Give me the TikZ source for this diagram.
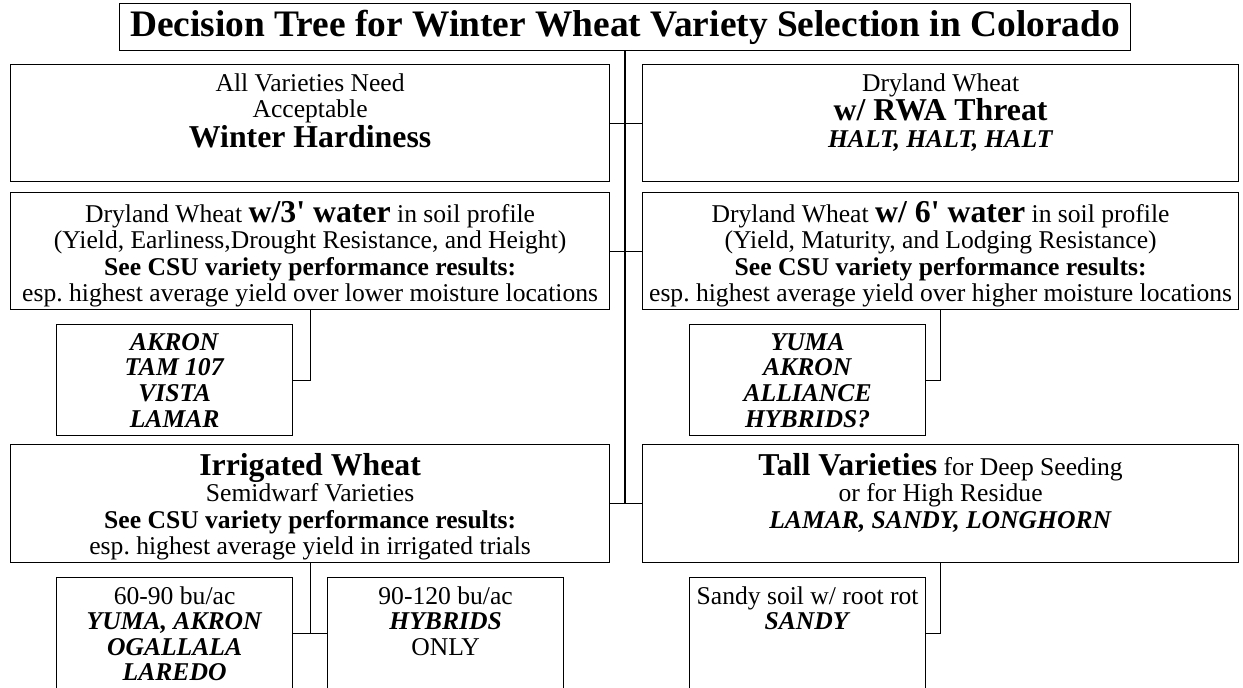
\documentclass[tikz,border=0pt]{standalone}
\usepackage{fontspec}
\setmainfont{Liberation Serif}[Ligatures=TeXOff]

\newcommand{\bodysize}{\fontsize{12.8}{13.2}\selectfont}
\newcommand{\listsize}{\fontsize{12.8}{12.8}\selectfont}
\newcommand{\bigsize}{\fontsize{15.9}{16.5}\selectfont}
\newcommand{\titlesize}{\fontsize{18.7}{20}\selectfont}
\newcommand{\bigb}[1]{{\bigsize\bfseries #1}}
\newcommand{\cult}[1]{\textbf{\textit{#1}}}

\tikzset{
  box/.style={draw, line width=0.6pt, anchor=north west, inner sep=0pt},
  boxtext/.style={anchor=north, align=center, inner sep=0pt, font=\bodysize\frenchspacing},
  listtext/.style={boxtext, font=\listsize\frenchspacing},
  link/.style={line width=0.55pt},
  trunk/.style={line width=1.1pt}
}

\begin{document}
\begin{tikzpicture}[x=0.5pt, y=-0.5pt]
            \def \px     {0.5pt}
            \def \gap    {4.5pt}
            \def \xl     {10}
            \def \xr     {642}
            \def \wl     {599}
            \def \wr     {596}
            \def \xsl    {56}
            \def \xsr    {689}
            \def \xsm    {327}
            \def \ws     {236}

            \def \yone   {64}
            \def \ytwo   {192}
            \def \ysub   {324}
            \def \ythree {444}
            \def \ybot   {577}

            \useasboundingbox (0,0) rectangle (1243,687);
            \clip (0,0) rectangle (1243,687);
% title
            \node [box, minimum width=1011*\px, minimum height=47*\px, font=\titlesize\bfseries] (title) at (119,3) {Decision Tree for Winter Wheat Variety Selection in Colorado};
% first row
            \node [box, minimum width=\wl*\px, minimum height=117*\px] (hardy) at (\xl,\yone) {};
            \node [box, minimum width=\wr*\px, minimum height=117*\px] (rwa) at (\xr,\yone) {};
            \node [boxtext] (hardytxt) at ([yshift=-\gap]hardy.north) {All Varieties Need\\Acceptable\\\bigb{Winter Hardiness}};
            \node [boxtext] (rwatxt) at ([yshift=-\gap]rwa.north) {Dryland Wheat\\\bigb{w/ RWA Threat}\\\cult{HALT, HALT, HALT}};
% second row
            \node [box, minimum width=\wl*\px, minimum height=117*\px] (dry3) at (\xl,\ytwo) {};
            \node [box, minimum width=\wr*\px, minimum height=117*\px] (dry6) at (\xr,\ytwo) {};
            \node [boxtext] (dry3txt) at ([yshift=-\gap]dry3.north) {Dryland Wheat \bigb{w/3' water} in soil profile\\(Yield, Earliness,Drought Resistance, and Height)\\\textbf{See CSU variety performance results:}\\esp. highest average yield over lower moisture locations};
            \node [boxtext] (dry6txt) at ([yshift=-\gap]dry6.north) {Dryland Wheat \bigb{w/ 6' water} in soil profile\\(Yield, Maturity, and Lodging Resistance)\\\textbf{See CSU variety performance results:}\\esp. highest average yield over higher moisture locations};
% dryland varieties
            \node [box, minimum width=\ws*\px, minimum height=111*\px] (akron) at (\xsl,\ysub) {};
            \node [box, minimum width=\ws*\px, minimum height=111*\px] (yuma) at (\xsr,\ysub) {};
            \node [listtext] (akrontxt) at ([yshift=-\gap]akron.north) {\cult{AKRON}\\\cult{TAM 107}\\\cult{VISTA}\\\cult{LAMAR}};
            \node [listtext] (yumatxt) at ([yshift=-\gap]yuma.north) {\cult{YUMA}\\\cult{AKRON}\\\cult{ALLIANCE}\\\cult{HYBRIDS?}};
% third row
            \node [box, minimum width=\wl*\px, minimum height=118*\px] (irr) at (\xl,\ythree) {};
            \node [box, minimum width=\wr*\px, minimum height=118*\px] (tall) at (\xr,\ythree) {};
            \node [boxtext] (irrtxt) at ([yshift=-\gap]irr.north) {\bigb{Irrigated Wheat}\\Semidwarf Varieties\\\textbf{See CSU variety performance results:}\\esp. highest average yield in irrigated trials};
            \node [boxtext] (talltxt) at ([yshift=-\gap]tall.north) {\bigb{Tall Varieties} for Deep Seeding\\or for High Residue\\\cult{LAMAR, SANDY, LONGHORN}};
% bottom row
            \node [box, minimum width=\ws*\px, minimum height=112*\px] (low) at (\xsl,\ybot) {};
            \node [box, minimum width=\ws*\px, minimum height=112*\px] (high) at (\xsm,\ybot) {};
            \node [box, minimum width=\ws*\px, minimum height=112*\px] (sandy) at (\xsr,\ybot) {};
            \node [listtext] (lowtxt) at ([yshift=-\gap]low.north) {60-90 bu/ac\\\cult{YUMA, AKRON}\\\cult{OGALLALA}\\\cult{LAREDO}};
            \node [listtext] (hightxt) at ([yshift=-\gap]high.north) {90-120 bu/ac\\\cult{HYBRIDS}\\ONLY};
            \node [listtext] (sandytxt) at ([yshift=-\gap]sandy.north) {Sandy soil w/ root rot\\\cult{SANDY}};
% trunk
            \draw [trunk] (title.south) -- (title.south |- irr.east);
% cross links
            \draw [link] (hardy.east) -- (rwa.west);
            \draw [link] (dry3.east) -- (dry6.west);
            \draw [link] (irr.east) -- (tall.west);
% branches
            \draw [link] (dry3.south) |- (akron.east);
            \draw [link] (dry6.south) |- (yuma.east);
            \draw [link] (irr.south) -- (irr.south |- low.east);
            \draw [link] (low.east) -- (high.west);
            \draw [link] (tall.south) |- (sandy.east);

        \end{tikzpicture}
\end{document}
